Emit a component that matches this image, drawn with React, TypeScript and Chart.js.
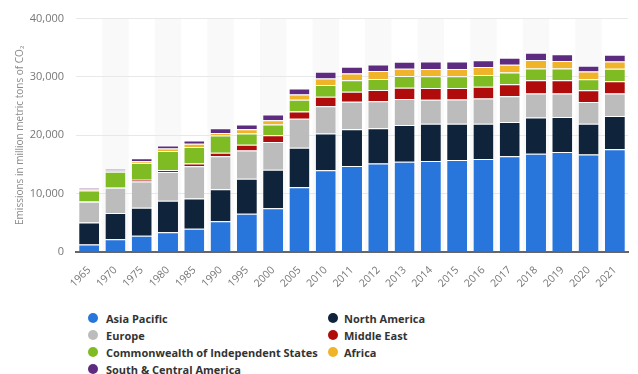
import React, { useEffect, useRef } from "react";
import { Chart, registerables } from "chart.js";

Chart.register(...registerables);

const categories = ["1965","1970","1975","1980","1985","1990","1995","2000","2005","2010","2011","2012","2013","2014","2015","2016","2017","2018","2019","2020","2021"];

const asiaPacific = [1300,2200,2800,3400,4000,5250,6550,7500,11100,14000,14750,15150,15450,15600,15750,15950,16400,16850,17150,16700,17600];
const northAmerica = [3750,4500,4800,5400,5150,5500,6000,6600,6750,6300,6300,6050,6300,6400,6250,6050,5900,6200,6000,5300,5700];
const europe = [3550,4300,4500,4900,5550,5650,4850,4750,5000,4700,4700,4650,4450,4100,4150,4300,4400,4100,4000,3700,3850];
const middleEast = [100,150,300,350,450,600,1000,1150,1250,1600,1700,1900,1950,2000,1950,2000,2050,2300,2300,2000,2100];
const cis = [1850,2600,2850,3250,2850,2950,1900,1850,2000,2000,2000,1900,2000,2000,2000,2050,2000,2000,2000,1900,2150];
const africa = [150,200,300,450,550,450,750,750,900,1150,1150,1350,1250,1250,1250,1350,1350,1450,1300,1350,1250];
const southCentralAmerica = [300,300,500,500,550,800,800,950,1000,1150,1150,1150,1200,1300,1300,1150,1200,1250,1150,950,1150];

const seriesNames = ["Asia Pacific","North America","Europe","Middle East","Commonwealth of Independent States","Africa","South & Central America"];
const seriesColors = ["#2876dc","#0f233b","#bcbcbc","#b00c0c","#7fbb22","#f0b42a","#5d2b80"];
const seriesData = [asiaPacific, northAmerica, europe, middleEast, cis, africa, southCentralAmerica];

const legendRows: [number, number | null][] = [[0, 1], [2, 3], [4, 5], [6, null]];

const FONT = "'Open Sans', 'DejaVu Sans', sans-serif";

const stripePlugin = {
  id: "stripes",
  beforeDraw(chart: any) {
    const { ctx, chartArea, scales } = chart;
    const x = scales.x;
    const n = categories.length;
    const w = (chartArea.right - chartArea.left) / n;
    ctx.save();
    ctx.fillStyle = "#f9f9f9";
    for (let i = 1; i < n; i += 2) {
      const c = x.getPixelForValue(i);
      ctx.fillRect(c - w / 2, chartArea.top, w, chartArea.bottom - chartArea.top);
    }
    ctx.restore();
  },
};

export default function App() {
  const ref = useRef<HTMLCanvasElement>(null);
  useEffect(() => {
    document.body.style.margin = "0";
    const chart = new Chart(ref.current!, {
      type: "bar",
      data: {
        labels: categories,
        datasets: seriesData.map((d, i) => ({
          label: seriesNames[i],
          data: d,
          backgroundColor: seriesColors[i],
          borderColor: "#ffffff",
          borderWidth: { top: 1, left: 0, right: 0, bottom: 0 },
          borderSkipped: false,
          barPercentage: 0.76,
          categoryPercentage: 1,
        })),
      },
      options: {
        responsive: false,
        animation: false,
        devicePixelRatio: 1,
        layout: { padding: { top: 18, right: 10, left: 0, bottom: 0 } },
        plugins: { legend: { display: false }, tooltip: { enabled: false } },
        scales: {
          x: {
            stacked: true,
            grid: { display: false },
            border: { display: true, color: "#666666", width: 2 },
            ticks: {
              minRotation: 45,
              maxRotation: 45,
              color: "#777777",
              font: { family: FONT, size: 10.5 },
              padding: 4,
            },
            afterFit(scale: any) {
              scale.height = 48;
            },
          },
          y: {
            stacked: true,
            min: 0,
            max: 40000,
            ticks: {
              stepSize: 10000,
              color: "#777777",
              font: { family: FONT, size: 11 },
              padding: 12,
              callback: (v: any) => Number(v).toLocaleString("en-US"),
            },
            grid: { color: "#e8e8e8", drawTicks: false },
            border: { display: false },
            title: {
              display: true,
              text: "Emissions in million metric tons of CO₂",
              color: "#8a8a8a",
              font: { family: FONT, size: 10 },
              padding: { top: 14, bottom: 0 },
            },
            afterFit(scale: any) {
              scale.width = 76;
            },
          },
        },
      },
      plugins: [stripePlugin],
    });
    return () => chart.destroy();
  }, []);

  return (
    <div style={{ position: "relative", width: 638, height: 374, background: "#fff", fontFamily: FONT }}>
      <canvas ref={ref} width={638} height={300} style={{ display: "block" }} />
      {legendRows.map((row, r) =>
        row.map((idx, c) =>
          idx === null ? null : (
            <div
              key={`${r}-${c}`}
              style={{
                position: "absolute",
                left: c === 0 ? 88 : 328,
                top: 318 + r * 17 - 8,
                height: 16,
                display: "flex",
                alignItems: "center",
                whiteSpace: "nowrap",
              }}
            >
              <span
                style={{
                  display: "inline-block",
                  width: 10,
                  height: 10,
                  borderRadius: "50%",
                  background: seriesColors[idx],
                  marginRight: c === 0 ? 8 : 6,
                }}
              />
              <span style={{ fontSize: 11, fontWeight: 700, color: "#333" }}>{seriesNames[idx]}</span>
            </div>
          )
        )
      )}
    </div>
  );
}
